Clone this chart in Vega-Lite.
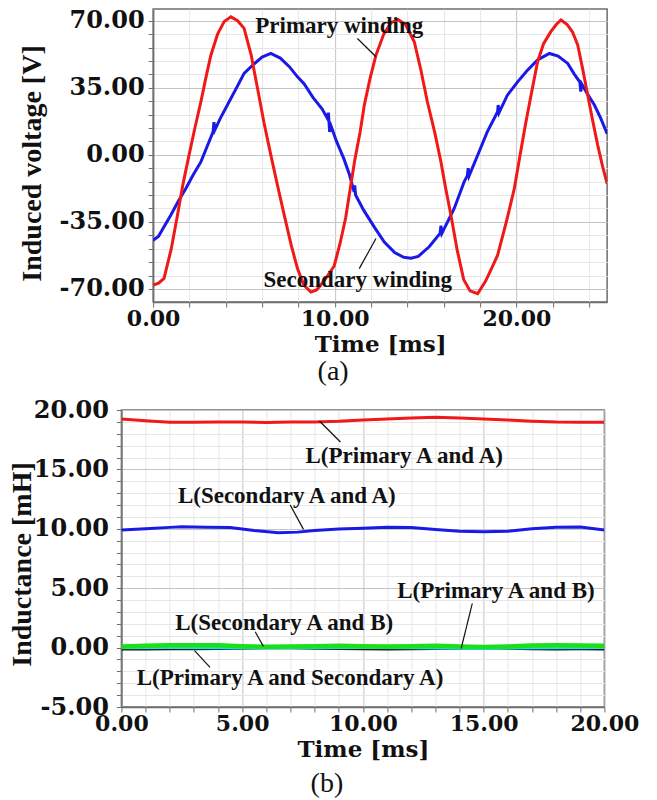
{
  "$schema": "https://vega.github.io/schema/vega-lite/v6.json",
  "background": "white",
  "padding": {"left": 7, "top": 7, "right": 0, "bottom": 0},
  "config": {
    "view": {"stroke": "#6e6e6e", "strokeWidth": 1.5},
    "axis": {
      "domainColor": "#6e6e6e", "domainWidth": 1.5, "tickColor": "#6e6e6e", "tickSize": 5,
      "labelFont": "DejaVu Serif", "labelFontWeight": "bold", "labelFontSize": 22, "labelColor": "#111111",
      "titleFont": "DejaVu Serif", "titleFontWeight": "bold", "titleFontSize": 23, "titleColor": "#111111",
      "grid": true, "labelOverlap": false, "labelBound": false, "labelFlush": false
    }
  },
  "vconcat": [
    {
      "width": 454, "height": 293,
      "title": {"text": "(a)", "orient": "bottom", "anchor": "middle", "frame": "group", "dx": -47, "offset": 2, "font": "Liberation Serif", "fontSize": 28, "fontWeight": "normal", "color": "#111111"},
      "encoding": {
        "x": {"field": "t", "type": "quantitative", "scale": {"domain": [0, 25], "nice": false, "zero": false},
          "axis": {"values": [0,2,4,6,8,10,12,14,16,18,20,22,24], "labelExpr": "datum.value % 10 === 0 ? format(datum.value, '.2f') : ''", "title": "Time [ms]", "labelPadding": 1, "titlePadding": 4,
            "gridColor": {"condition": {"test": "datum.value % 10 === 0", "value": "#c4c4c4"}, "value": "#e6e6e6"}}},
        "y": {"field": "v", "type": "quantitative", "scale": {"domain": [-76.8, 76.1], "nice": false, "zero": false},
          "axis": {"values": [-70,-63,-56,-49,-42,-35,-28,-21,-14,-7,0,7,14,21,28,35,42,49,56,63,70], "labelExpr": "datum.value % 35 === 0 ? replace(format(datum.value, '.2f'), '\u2212', '-') : ''", "labelFontSize": 24, "title": "Induced voltage [V]", "titleFont": "Liberation Serif", "titleFontSize": 28, "labelPadding": 4, "titleX": -112.5, "titleY": 154, "titleBaseline": "alphabetic", "titleAngle": -90, "titleAlign": "center",
            "gridColor": {"condition": {"test": "datum.value % 35 === 0", "value": "#c4c4c4"}, "value": "#e6e6e6"}}}
      },
      "layer": [
        {"data": {"name": "wave_a"}, "transform": [{"filter": "datum.s === 'sec'"}], "mark": {"type": "line", "color": "#1a1ae6", "strokeWidth": 3, "clip": true}},
        {"data": {"name": "wave_a"}, "transform": [{"filter": "datum.s === 'pri'"}], "mark": {"type": "line", "color": "#f01818", "strokeWidth": 3, "clip": true}},
        {"data": {"name": "lead_a"}, "mark": {"type": "rule", "color": "#111111", "strokeWidth": 1.2}, "encoding": {"x2": {"field": "t2"}, "y2": {"field": "v2"}}},
        {"data": {"name": "lab_a"}, "mark": {"type": "text", "font": "Liberation Serif", "fontWeight": "bold", "fontSize": 23, "align": "center", "baseline": "alphabetic", "color": "#111111"}, "encoding": {"text": {"field": "label"}}}
      ]
    },
    {
      "width": 483, "height": 297,
      "title": {"text": "(b)", "orient": "bottom", "anchor": "middle", "frame": "group", "dx": -36, "offset": 9, "font": "Liberation Serif", "fontSize": 28, "fontWeight": "normal", "color": "#111111"},
      "encoding": {
        "x": {"field": "t", "type": "quantitative", "scale": {"domain": [0, 20], "nice": false, "zero": false},
          "axis": {"values": [0,1,2,3,4,5,6,7,8,9,10,11,12,13,14,15,16,17,18,19,20], "labelExpr": "datum.value % 5 === 0 ? format(datum.value, '.2f') : ''", "title": "Time [ms]", "labelPadding": 1, "titlePadding": 4,
            "gridColor": {"condition": {"test": "datum.value % 5 === 0", "value": "#c4c4c4"}, "value": "#e6e6e6"}}},
        "y": {"field": "v", "type": "quantitative", "scale": {"domain": [-5, 20], "nice": false, "zero": false},
          "axis": {"values": [-5,-4,-3,-2,-1,0,1,2,3,4,5,6,7,8,9,10,11,12,13,14,15,16,17,18,19,20], "labelExpr": "datum.value % 5 === 0 ? replace(format(datum.value, '.2f'), '\u2212', '-') : ''", "labelFontSize": 24, "title": "Inductance [mH]", "titleFont": "Liberation Serif", "titleFontSize": 28, "labelPadding": 8, "titleX": -91.2, "titleY": 154, "titleBaseline": "alphabetic", "titleAngle": -90, "titleAlign": "center",
            "gridColor": {"condition": {"test": "datum.value % 5 === 0", "value": "#c4c4c4"}, "value": "#e6e6e6"}}}
      },
      "layer": [
        {"data": {"name": "ind_b"}, "transform": [{"filter": "datum.s === 'pasa'"}], "mark": {"type": "line", "color": "#111111", "strokeWidth": 3, "clip": true}},
        {"data": {"name": "ind_b"}, "transform": [{"filter": "datum.s === 'pab'"}], "mark": {"type": "line", "color": "#19e0e0", "strokeWidth": 2.5, "clip": true}},
        {"data": {"name": "ind_b"}, "transform": [{"filter": "datum.s === 'sab'"}], "mark": {"type": "line", "color": "#19e019", "strokeWidth": 4.5, "clip": true}},
        {"data": {"name": "ind_b"}, "transform": [{"filter": "datum.s === 'saa'"}], "mark": {"type": "line", "color": "#1a1ae6", "strokeWidth": 3, "clip": true}},
        {"data": {"name": "ind_b"}, "transform": [{"filter": "datum.s === 'paa'"}], "mark": {"type": "line", "color": "#f01818", "strokeWidth": 3, "clip": true}},
        {"data": {"name": "lead_b"}, "mark": {"type": "rule", "color": "#111111", "strokeWidth": 1.2}, "encoding": {"x2": {"field": "t2"}, "y2": {"field": "v2"}}},
        {"data": {"name": "lab_b"}, "mark": {"type": "text", "font": "Liberation Serif", "fontWeight": "bold", "fontSize": 23, "align": "center", "baseline": "alphabetic", "color": "#111111"}, "encoding": {"text": {"field": "label"}}}
      ]
    }
  ],
  "center": true,
  "spacing": 10,
  "datasets": {
    "wave_a": [
      {"s":"pri","t":0,"v":-68},{"s":"pri","t":0.3,"v":-67},{"s":"pri","t":0.6,"v":-64.5},{"s":"pri","t":1.0,"v":-49},{"s":"pri","t":1.34,"v":-31.5},{"s":"pri","t":1.65,"v":-15},{"s":"pri","t":1.98,"v":0},{"s":"pri","t":2.3,"v":14},{"s":"pri","t":2.63,"v":27.7},{"s":"pri","t":2.9,"v":40},{"s":"pri","t":3.18,"v":52},{"s":"pri","t":3.55,"v":63},{"s":"pri","t":3.91,"v":69.5},{"s":"pri","t":4.28,"v":72},{"s":"pri","t":4.65,"v":70},{"s":"pri","t":5.01,"v":66},{"s":"pri","t":5.4,"v":52},{"s":"pri","t":5.75,"v":34.6},{"s":"pri","t":6.1,"v":17},{"s":"pri","t":6.48,"v":0},{"s":"pri","t":6.85,"v":-16},{"s":"pri","t":7.22,"v":-31.5},{"s":"pri","t":7.6,"v":-47},{"s":"pri","t":7.95,"v":-59.4},{"s":"pri","t":8.3,"v":-68},{"s":"pri","t":8.69,"v":-71.6},{"s":"pri","t":9.0,"v":-70.5},{"s":"pri","t":9.4,"v":-66},{"s":"pri","t":9.97,"v":-58},{"s":"pri","t":10.3,"v":-46},{"s":"pri","t":10.6,"v":-33},{"s":"pri","t":10.85,"v":-18},{"s":"pri","t":11.1,"v":-3},{"s":"pri","t":11.4,"v":12},{"s":"pri","t":11.63,"v":26},{"s":"pri","t":11.95,"v":40},{"s":"pri","t":12.27,"v":52},{"s":"pri","t":12.7,"v":63},{"s":"pri","t":13.1,"v":69},{"s":"pri","t":13.5,"v":70.5},{"s":"pri","t":13.9,"v":68},{"s":"pri","t":14.38,"v":59},{"s":"pri","t":14.75,"v":44},{"s":"pri","t":15.1,"v":27.7},{"s":"pri","t":15.5,"v":12},{"s":"pri","t":15.85,"v":-3.7},{"s":"pri","t":16.1,"v":-17},{"s":"pri","t":16.4,"v":-31.5},{"s":"pri","t":16.75,"v":-50},{"s":"pri","t":17.1,"v":-65},{"s":"pri","t":17.45,"v":-71},{"s":"pri","t":17.87,"v":-72.5},{"s":"pri","t":18.3,"v":-66},{"s":"pri","t":18.6,"v":-60},{"s":"pri","t":18.97,"v":-52.4},{"s":"pri","t":19.45,"v":-35},{"s":"pri","t":19.89,"v":-17.6},{"s":"pri","t":20.2,"v":-0.5},{"s":"pri","t":20.53,"v":17.2},{"s":"pri","t":20.85,"v":33},{"s":"pri","t":21.17,"v":48.6},{"s":"pri","t":21.5,"v":58},{"s":"pri","t":21.9,"v":64.3},{"s":"pri","t":22.2,"v":68},{"s":"pri","t":22.46,"v":70.4},{"s":"pri","t":22.8,"v":68},{"s":"pri","t":23.1,"v":64},{"s":"pri","t":23.38,"v":57.3},{"s":"pri","t":23.65,"v":45},{"s":"pri","t":23.93,"v":31.2},{"s":"pri","t":24.2,"v":18},{"s":"pri","t":24.48,"v":5.1},{"s":"pri","t":24.75,"v":-6},{"s":"pri","t":25.0,"v":-15},
      {"s":"sec","t":0,"v":-44.6},{"s":"sec","t":0.3,"v":-42.5},{"s":"sec","t":0.6,"v":-37.5},{"s":"sec","t":0.97,"v":-31.5},{"s":"sec","t":1.4,"v":-24},{"s":"sec","t":1.8,"v":-17.6},{"s":"sec","t":2.2,"v":-10.5},{"s":"sec","t":2.63,"v":-3.7},{"s":"sec","t":3.0,"v":5},{"s":"sec","t":3.3,"v":12},{"s":"sec","t":3.35,"v":17},{"s":"sec","t":3.4,"v":13},{"s":"sec","t":3.7,"v":19},{"s":"sec","t":4.28,"v":29.4},{"s":"sec","t":4.65,"v":36},{"s":"sec","t":5.01,"v":42.5},{"s":"sec","t":5.5,"v":47},{"s":"sec","t":6.0,"v":51},{"s":"sec","t":6.48,"v":52.9},{"s":"sec","t":7.0,"v":50.5},{"s":"sec","t":7.5,"v":46},{"s":"sec","t":7.95,"v":40.7},{"s":"sec","t":8.32,"v":37},{"s":"sec","t":8.8,"v":30},{"s":"sec","t":9.3,"v":24},{"s":"sec","t":9.6,"v":19},{"s":"sec","t":9.65,"v":22},{"s":"sec","t":9.72,"v":12},{"s":"sec","t":9.8,"v":15},{"s":"sec","t":10.1,"v":7},{"s":"sec","t":10.5,"v":-2},{"s":"sec","t":10.8,"v":-10},{"s":"sec","t":11.07,"v":-19.3},{"s":"sec","t":11.1,"v":-16},{"s":"sec","t":11.15,"v":-21},{"s":"sec","t":11.6,"v":-29},{"s":"sec","t":12.2,"v":-38},{"s":"sec","t":12.73,"v":-45.5},{"s":"sec","t":13.3,"v":-51},{"s":"sec","t":13.8,"v":-53.5},{"s":"sec","t":14.2,"v":-54},{"s":"sec","t":14.6,"v":-53},{"s":"sec","t":15.2,"v":-48},{"s":"sec","t":15.8,"v":-41},{"s":"sec","t":15.85,"v":-37},{"s":"sec","t":15.9,"v":-41},{"s":"sec","t":16.58,"v":-28},{"s":"sec","t":17.13,"v":-14},{"s":"sec","t":17.3,"v":-11},{"s":"sec","t":17.35,"v":-7},{"s":"sec","t":17.4,"v":-11},{"s":"sec","t":17.87,"v":-0.2},{"s":"sec","t":18.4,"v":12},{"s":"sec","t":18.97,"v":22.5},{"s":"sec","t":19.0,"v":26},{"s":"sec","t":19.05,"v":22},{"s":"sec","t":19.5,"v":31},{"s":"sec","t":20.07,"v":38.1},{"s":"sec","t":20.6,"v":44},{"s":"sec","t":21.17,"v":49.5},{"s":"sec","t":21.82,"v":52.9},{"s":"sec","t":22.3,"v":51.5},{"s":"sec","t":22.83,"v":47.7},{"s":"sec","t":23.2,"v":42},{"s":"sec","t":23.5,"v":38},{"s":"sec","t":23.55,"v":33},{"s":"sec","t":23.6,"v":37},{"s":"sec","t":23.9,"v":32},{"s":"sec","t":24.3,"v":26},{"s":"sec","t":24.65,"v":19},{"s":"sec","t":25.0,"v":11}
    ],
    "lead_a": [
      {"t":11.25,"v":60.7,"t2":12.27,"v2":51.2},
      {"t":12.27,"v":-43.7,"t2":11.35,"v2":-59.4}
    ],
    "lab_a": [
      {"t":10.25,"v":63.4,"label":"Primary winding"},
      {"t":11.27,"v":-69.0,"label":"Secondary winding"}
    ],
    "ind_b": [
      {"s":"paa","t":0,"v":19.24},{"s":"paa","t":1,"v":19.1},{"s":"paa","t":2,"v":18.96},{"s":"paa","t":3,"v":18.96},{"s":"paa","t":4,"v":19.0},{"s":"paa","t":5,"v":18.98},{"s":"paa","t":6,"v":18.95},{"s":"paa","t":7,"v":18.98},{"s":"paa","t":8,"v":19.0},{"s":"paa","t":9,"v":19.05},{"s":"paa","t":10,"v":19.15},{"s":"paa","t":11,"v":19.25},{"s":"paa","t":12,"v":19.33},{"s":"paa","t":13,"v":19.38},{"s":"paa","t":14,"v":19.33},{"s":"paa","t":15,"v":19.25},{"s":"paa","t":16,"v":19.15},{"s":"paa","t":17,"v":19.05},{"s":"paa","t":18,"v":18.98},{"s":"paa","t":19,"v":18.96},{"s":"paa","t":20,"v":18.96},
      {"s":"saa","t":0,"v":9.9},{"s":"saa","t":1,"v":10.0},{"s":"saa","t":2,"v":10.12},{"s":"saa","t":2.5,"v":10.18},{"s":"saa","t":3.5,"v":10.12},{"s":"saa","t":4.5,"v":10.1},{"s":"saa","t":5.5,"v":9.85},{"s":"saa","t":6.5,"v":9.67},{"s":"saa","t":7.3,"v":9.72},{"s":"saa","t":8,"v":9.85},{"s":"saa","t":9,"v":9.98},{"s":"saa","t":10,"v":10.05},{"s":"saa","t":11,"v":10.12},{"s":"saa","t":12,"v":10.1},{"s":"saa","t":13,"v":9.95},{"s":"saa","t":14,"v":9.8},{"s":"saa","t":15,"v":9.76},{"s":"saa","t":16,"v":9.8},{"s":"saa","t":17,"v":10.0},{"s":"saa","t":18,"v":10.12},{"s":"saa","t":19,"v":10.15},{"s":"saa","t":20,"v":9.9},
      {"s":"sab","t":0,"v":0.1},{"s":"sab","t":1,"v":0.15},{"s":"sab","t":2,"v":0.2},{"s":"sab","t":3,"v":0.2},{"s":"sab","t":4,"v":0.2},{"s":"sab","t":5,"v":0.12},{"s":"sab","t":6,"v":0.08},{"s":"sab","t":7,"v":0.1},{"s":"sab","t":8,"v":0.12},{"s":"sab","t":9,"v":0.15},{"s":"sab","t":10,"v":0.12},{"s":"sab","t":11,"v":0.1},{"s":"sab","t":12,"v":0.12},{"s":"sab","t":13,"v":0.15},{"s":"sab","t":14,"v":0.1},{"s":"sab","t":15,"v":0.05},{"s":"sab","t":16,"v":0.1},{"s":"sab","t":17,"v":0.18},{"s":"sab","t":18,"v":0.2},{"s":"sab","t":19,"v":0.18},{"s":"sab","t":20,"v":0.15},
      {"s":"pab","t":0,"v":-0.03},{"s":"pab","t":2,"v":-0.02},{"s":"pab","t":4,"v":-0.04},{"s":"pab","t":6,"v":-0.05},{"s":"pab","t":8,"v":-0.03},{"s":"pab","t":10,"v":-0.02},{"s":"pab","t":12,"v":-0.04},{"s":"pab","t":14,"v":-0.08},{"s":"pab","t":15,"v":-0.1},{"s":"pab","t":16,"v":-0.06},{"s":"pab","t":18,"v":-0.03},{"s":"pab","t":20,"v":-0.02},
      {"s":"pasa","t":0,"v":-0.12},{"s":"pasa","t":1,"v":-0.12},{"s":"pasa","t":2,"v":-0.1},{"s":"pasa","t":3,"v":-0.1},{"s":"pasa","t":4,"v":-0.08},{"s":"pasa","t":5,"v":-0.05},{"s":"pasa","t":6,"v":-0.02},{"s":"pasa","t":7,"v":-0.02},{"s":"pasa","t":8,"v":-0.05},{"s":"pasa","t":9,"v":-0.08},{"s":"pasa","t":10,"v":-0.1},{"s":"pasa","t":11,"v":-0.12},{"s":"pasa","t":12,"v":-0.1},{"s":"pasa","t":13,"v":-0.08},{"s":"pasa","t":14,"v":-0.05},{"s":"pasa","t":15,"v":-0.02},{"s":"pasa","t":16,"v":-0.05},{"s":"pasa","t":17,"v":-0.1},{"s":"pasa","t":18,"v":-0.12},{"s":"pasa","t":19,"v":-0.1},{"s":"pasa","t":20,"v":-0.12}
    ],
    "lead_b": [
      {"t":8.2,"v":19.07,"t2":9.07,"v2":17.31},
      {"t":6.99,"v":12.0,"t2":7.54,"v2":9.95},
      {"t":14.53,"v":3.73,"t2":14.07,"v2":-0.06},
      {"t":5.54,"v":1.34,"t2":5.88,"v2":0.1},
      {"t":3.03,"v":-0.26,"t2":3.67,"v2":-1.66}
    ],
    "lab_b": [
      {"t":11.71,"v":15.51,"label":"L(Primary A and A)"},
      {"t":6.85,"v":12.15,"label":"L(Secondary A and A)"},
      {"t":15.51,"v":4.15,"label":"L(Primary A and B)"},
      {"t":6.74,"v":1.48,"label":"L(Secondary A and B)"},
      {"t":6.98,"v":-3.15,"label":"L(Primary A and Secondary A)"}
    ]
  }
}
